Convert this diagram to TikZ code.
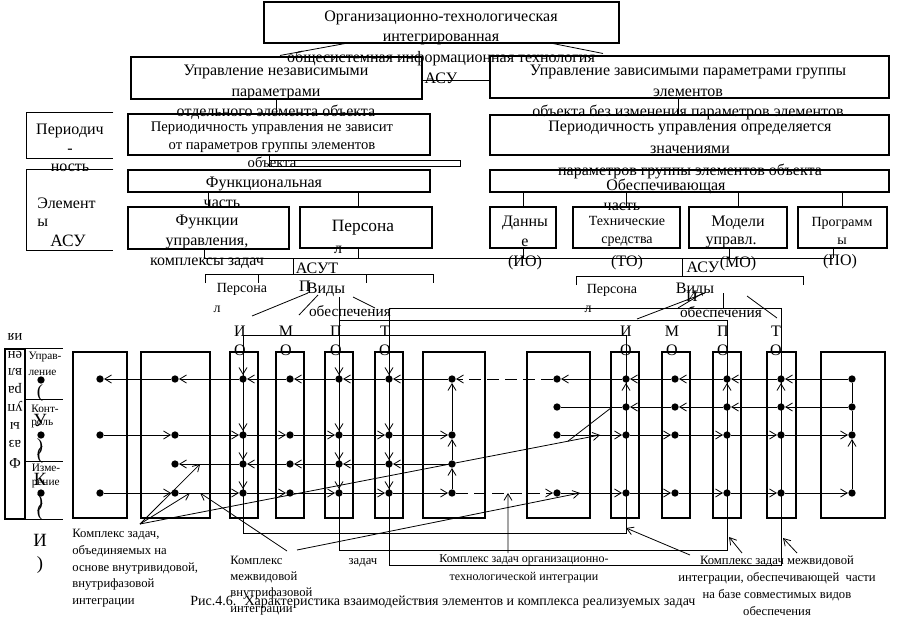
\documentclass[tikz,border=0pt]{standalone}
\usepackage{fontspec}
\setmainfont{Liberation Serif}
\usetikzlibrary{arrows.meta,positioning,calc,fit}
\newcommand{\fsz}[2]{\fontsize{#1}{#2}\selectfont}
\tikzset{
  blk/.style={draw, line width=0.8pt, inner sep=0pt},
  lbox/.style={inner sep=0pt},
  colbox/.style={draw, line width=2pt, inner sep=0pt},
  txt/.style={inner sep=0pt, align=center, font=\fsz{12}{15.5}},
  stxt/.style={inner sep=0pt, align=center, font=\fsz{10.5}{13.5}},
  ktxt/.style={inner sep=0pt, align=left, anchor=north west, font=\fsz{9.5}{12.5}},
  dot/.style={circle, fill, inner sep=0pt, minimum size=5.5pt},
  arr/.style={-{Straight Barb[length=5pt,width=6pt]}, line width=0.6pt},
  darr/.style={arr, dash pattern=on 9pt off 4.5pt}}

\begin{document}
\begin{tikzpicture}[x=0.75pt, y=-0.75pt, line width=0.6pt]
\useasboundingbox (0,0) rectangle (908,621);

% top levels
\node[blk, fit={(264,2) (619,43)}] (org) {};
\node[txt] at (441,47) {Организационно-технологическая\\интегрированная\\общесистемная информационная технология\\АСУ};
\node[blk, fit={(131,57) (422,99)}] (indep) {};
\node[txt] at (276,92.5) {Управление независимыми\\параметрами\\отдельного элемента объекта};
\node[blk, fit={(490,56) (889,98)}] (dep) {};
\node[txt] at (688,92.5) {Управление зависимыми параметрами группы\\элементов\\объекта без изменения параметров элементов};
\draw ($(org.south)+(-96.5,0)$) -- ($(indep.north)+(3.5,-1)$);
\draw ($(org.south)+(111.5,0)$) -- ($(dep.north)+(-86.5,-2)$);
\draw ($(indep.east)+(0,2)$) -- ($(indep.east -| dep.west)+(0,2)$);

% periodicity
\node[lbox, fit={(27,113) (113,158)}] (perlab) {};
\draw (perlab.north east) -- (perlab.north west) -- (perlab.south west) -- (perlab.south east);
\node[txt, font=\fsz{12}{14}] at (70,148) {Периодич\\-\\ность};
\node[blk, fit={(128,114) (430,155)}] (perL) {};
\node[txt, font=\fsz{11}{13.5}] at (272,145) {Периодичность управления не зависит\\от параметров группы элементов\\объекта};
\node[blk, fit={(490,115) (889,155)}] (perR) {};
\node[txt, font=\fsz{12}{16.5}] at (690,150) {Периодичность управления определяется\\значениями\\параметров группы элементов объекта};
\draw (indep.south) -- (indep.south |- perL.north);
\draw ($(dep.south)+(-11,0)$) -- ($(perR.north)+(-11,0)$);
\draw ($(perL.south)+(-10,0)$) -- ++(0,11) -- ++(191,0) -- ++(0,-6) -- ++(-191,0);

% elements of the system
\node[lbox, fit={(27,170) (113,250)}] (elemlab) {};
\draw (elemlab.north east) -- (elemlab.north west) -- (elemlab.south west) -- (elemlab.south east);
\node[txt, anchor=west] at (37,203) {Элемент};
\node[txt, anchor=west] at (37,223) {ы};
\node[txt, font=\fsz{13}{15}] at (68,241) {АСУ};

\node[blk, fit={(128,170) (430,192)}] (func) {};
\node[txt] at (264,184) {Функциональная};
\node[txt] at (222,204) {часть};
\node[blk, fit={(490,170) (889,192)}] (supp) {};
\node[txt] at (666,186) {Обеспечивающая};
\node[txt] at (622,207) {часть};

\node[blk, fit={(128,207) (289,249)}] (funcs) {};
\node[txt, font=\fsz{12}{15}] at (207,242) {Функции\\управления,\\комплексы задач};
\node[blk, fit={(300,207) (432,248)}] (pers) {};
\node[txt, font=\fsz{13}{15}] at (363,228) {Персона};
\node[txt] at (338,250) {л};
\node[blk, fit={(490,207) (556,248)}] (data) {};
\node[txt, font=\fsz{12}{15}] at (525,243) {Данны\\е\\(ИО)};
\node[blk, fit={(573,207) (680,248)}] (tech) {};
\node[stxt] at (627,231) {Технические\\средства};
\node[txt] at (627,263) {(ТО)};
\node[blk, fit={(689,207) (787,248)}] (model) {};
\node[txt] at (738,223) {Модели};
\node[txt] at (731,242) {управл.};
\node[txt] at (738,264) {(МО)};
\node[blk, fit={(798,207) (887,248)}] (prog) {};
\node[stxt] at (842,231) {Программ\\ы};
\node[txt] at (840,262) {(ПО)};

\draw (funcs.north) -- (funcs.north |- func.south);
\draw ($(pers.north)+(-8,0)$) -- ($(pers.north)+(-8,-15)$);
\foreach \n in {data,tech,model,prog}
  \draw (\n.north) -- (\n.north |- supp.south);

% bus to the subsystems
\coordinate (busL) at (204,258);
\coordinate (busR) at (833,258);
\draw (busL) -- (busR);
\draw (busL |- funcs.south) -- (busL);
\draw ($(pers.south)+(-8,0)$) -- ($(pers.south)+(-8,10)$);
\draw (data.south) -- (data.south |- busL);
\draw ($(model.south)+(-9,0)$) -- ($(model.south)+(-9,10)$);
\draw (busR |- prog.south) -- (busR);

\coordinate (asut) at (293,274);
\coordinate (brL1) at (205,274);
\coordinate (brL2) at (433,274);
\draw (asut |- busL) -- (asut);
\draw ($(brL1)+(0,9)$) -- (brL1) -- (brL2) -- ++(0,9);
\foreach \x in {258,366} \draw (\x,274) -- ++(0,9);
\node[txt] at (317,268) {АСУТ};
\coordinate (asu) at (682,276);
\coordinate (brR1) at (576,276);
\coordinate (brR2) at (803,276);
\draw (asu |- busL) -- (asu);
\draw ($(brR1)+(0,9)$) -- (brR1) -- (brR2) -- ++(0,9);
\node[txt] at (703,267) {АСУ};

\node[stxt] at (242,289) {Персона};
\node[stxt] at (217,309) {л};
\node[txt] at (305,286) {П};
\node[txt] (vidyL) at (326,290) {Виды};
\node[txt, font=\fsz{11.5}{14}] at (350,311) {обеспечения};
\node[stxt] at (612,290) {Персона};
\node[stxt] at (588,309) {л};
\node[txt] (vidyR) at (695,290) {Виды};
\node[txt] at (692,296) {И};
\node[txt, font=\fsz{11.5}{14}] at (721,312) {обеспечения};
\draw (308,293) -- (252,316);
\draw (318,295) -- (299,315);
\draw (353,297) -- (375,308);
\draw (705,293) -- (637,319);
\draw (703,293) -- (678,308);
\draw (723,293) -- (723,308);
\draw (747,296) -- (777,318);

% kinds of support: loops И, П, Т
\draw (389,308) rectangle (781,565);
\draw (339,320) rectangle (727,550);
\draw (339,297) -- (339,320);
\draw (243,335) rectangle (626,533);

% columns
\foreach \n/\xa/\xb in {bA/73/127, bB/141/210, cI/230/258, cM/276/304, cP/325/353,
    cT/375/403, bC/423/485, bD/527/590, cIr/611/639, cMr/662/690, cPr/713/741,
    cTr/767/796, bE/821/885}
  \node[colbox, fit={(\xa,352) (\xb,518)}] (\n) {};
\foreach \x/\l in {240/И, 286/М, 336/П, 385/Т, 626/И, 672/М, 723/П, 776/Т}
  \node[txt, font=\fsz{12}{14.25}] at (\x,340.5) {\l\\О};

% task points
\foreach \r/\y in {1/379, 2/435, 4/493}
  \node[dot] (A\r) at (100,\y) {};
\foreach \n/\x in {B/175, I/243, M/290, P/339, T/389, C/452}
  \foreach \r/\y in {1/379, 2/435, 3/464, 4/493}
    \node[dot] (\n\r) at (\x,\y) {};
\foreach \n/\x in {D/557, Ir/626, Mr/675, Pr/727, Tr/781, E/852}
  \foreach \r/\y in {1/379, 5/407, 2/435, 4/493}
    \node[dot] (\n\r) at (\x,\y) {};

% control flow
\foreach \a/\b in {E/Tr, Tr/Pr, Pr/Mr, Mr/Ir, Ir/D, C/T, T/P, P/M, M/I, I/B, B/A}
  \draw[arr] (\a1) -- (\b1);
\draw[darr] (D1) -- (C1);
\foreach \a/\b in {E/Tr, Tr/Pr, Pr/Mr, Mr/Ir}
  \draw[arr] (\a5) -- (\b5);
\draw (Ir5) -- (D5);
\foreach \a/\b in {A/B, B/I, I/M, M/P, P/T, T/C, D/Ir, Ir/Mr, Mr/Pr, Pr/Tr, Tr/E}
  \draw[arr] (\a2) -- (\b2);
\foreach \a/\b in {C/T, T/P, P/M, M/I, I/B}
  \draw[arr] (\a3) -- (\b3);
\foreach \a/\b in {A/B, B/I, I/M, M/P, P/T, T/C, D/Ir, Ir/Mr, Mr/Pr, Pr/Tr, Tr/E}
  \draw[arr] (\a4) -- (\b4);
\draw[darr] (C4) -- (D4);

\foreach \n in {I, P, T} {
  \draw[arr] (\n1) ++(0,-20) -- (\n1);
  \draw[arr] (\n1) -- (\n2);
  \draw[arr] (\n2) -- (\n3);
  \draw[arr] (\n3) -- (\n4);
}
\draw[arr] (C4) -- (C3);
\draw[arr] (C3) -- (C2);
\draw[arr] (C2) -- (C1);
\foreach \n in {Ir, Pr, Tr}
  \draw[arr] (\n5) -- (\n1);
\draw[arr] (E4) -- (E2);
\draw (E2) -- (E5) -- (E1);

% phases
\node[blk, fit={(5,349) (25,519)}] (phase) {};
\node[rotate=180, inner sep=0pt, align=center, font=\fsz{11}{13.4}] at (15,400.5) {Ф\\аз\\ы\\уп\\ра\\вл\\ен\\ия};
\foreach \y in {348, 399, 461, 519}
  \draw (25,\y) -- (63,\y);
\node[inner sep=0pt, align=left, font=\fsz{8.5}{11.5}] at (45,364) {Управ-\\ление};
\node[inner sep=0pt, align=left, font=\fsz{8.5}{10}] at (45,416.5) {Конт-\\роль};
\node[inner sep=0pt, align=left, font=\fsz{8.5}{10.5}] at (46,476) {Изме-\\рение};
\node[dot] (ph1) at (41,380) {};
\node[dot] (ph2) at (41,435) {};
\node[dot] (ph3) at (41,493) {};
\foreach \y/\l in {393/{(}, 420/У, 447/{)}, 455/{(}, 479/К, 503/{)}, 512/{(}, 540/И, 565/{)}}
  \node[inner sep=0pt, font=\fsz{14}{14}] at (40,\y) {\l};

% complexes of tasks
\node[ktxt] (kL) at (72,529) {Комплекс задач,\\объединяемых на\\основе внутривидовой,\\внутрифазовой\\интеграции};
\coordinate (kLo) at (140,524);
\draw[arr] (kLo) -- ($(B3)!0.37!(I3)$);
\draw[arr] (kLo) -- ($(B4)!0.22!(I4)$);
\draw[arr] (kLo) -- ($(D2)!0.624!(Ir2)$);
\draw ($(kLo)!0.93!($(D2)!0.624!(Ir2)$)$) -- ($(D5)!0.8!(Ir5)$);

\node[ktxt, font=\fsz{9.5}{12}] (kM) at (230,556) {Комплекс\\межвидовой\\внутрифазовой\\интеграции};
\coordinate (kMo1) at (287,551);
\coordinate (kMo2) at (297,550);
\draw[arr] (kMo1) -- ($(B4)!0.37!(I4)$);
\draw[arr] (kMo2) -- ($(D4)!0.333!(Ir4)$);

\node[inner sep=0pt, font=\fsz{9.5}{12}] at (363,563) {задач};
\node[inner sep=0pt, align=center, font=\fsz{9}{13.5}] (kO) at (524,569) {Комплекс задач организационно-\\технологической интеграции};
\coordinate (kOo) at (508,553);
\draw[arr] (kOo) -- ($(C4)!0.533!(D4)$);

\node[inner sep=0pt, align=center, font=\fsz{9.5}{12.75}] (kR) at (777,585.5) {Комплекс задач межвидовой\\интеграции, обеспечивающей~ части\\на базе совместимых видов\\обеспечения};
\coordinate (kRo1) at (690,555);
\coordinate (kRo2) at (742,553);
\coordinate (kRo3) at (797,553);
\draw[arr] (kRo1) -- ($(Ir4)+(0,35)$);
\draw[arr] (kRo2) -- ($(Pr4)+(2,44)$);
\draw[arr] (kRo3) -- ($(Tr4)+(2,45)$);

\node[inner sep=0pt, anchor=west, font=\fsz{10.5}{12}] at (190,602) {Рис.4.6.~ Характеристика взаимодействия элементов и комплекса реализуемых задач};
\end{tikzpicture}
\end{document}
